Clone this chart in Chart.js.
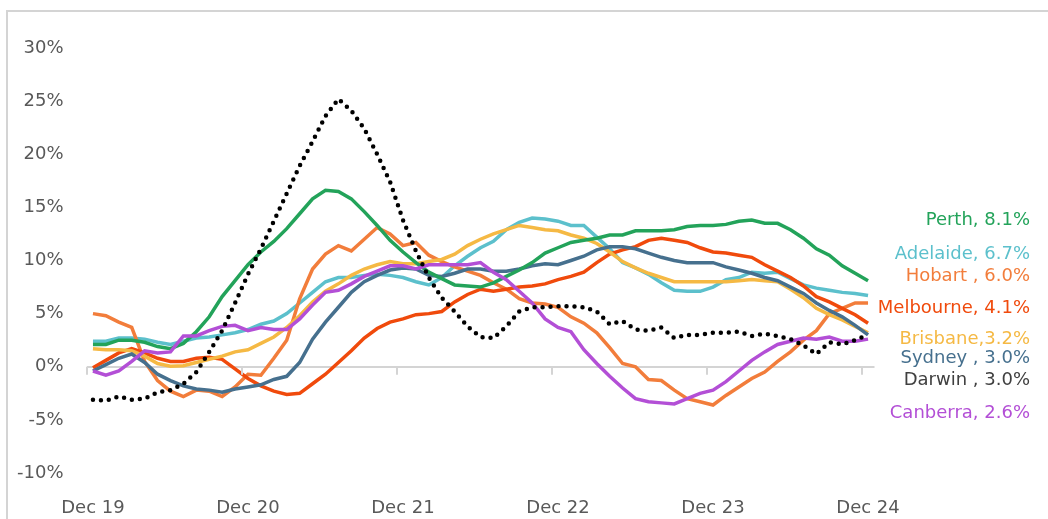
<!DOCTYPE html>
<html lang="en">
  <head>
    <meta charset="UTF-8" />
    <title>Capital city growth</title>
    <script src="https://cdn.jsdelivr.net/npm/chart.js@4"></script>
    <style>
      html, body { margin: 0; padding: 0; background: #fff; overflow: hidden; }
      .wrap { position: relative; width: 1048px; height: 519px; }
      .frame {
        position: absolute; left: 6px; top: 10px; width: 1100px; height: 600px;
        border-left: 2px solid #d4d4d4; border-top: 2px solid #d4d4d4;
      }
      canvas { position: absolute; left: 0; top: 0; }
    </style>
  </head>
  <body>
    <div class="wrap">
      <div class="frame"></div>
      <canvas id="growthChart" width="1048" height="519"></canvas>
    </div>

    <script>
      // monthly categories, Dec 19 .. Dec 24
      const monthNames = ["Jan","Feb","Mar","Apr","May","Jun","Jul","Aug","Sep","Oct","Nov","Dec"];
      const months = [];
      for (let i = 0; i < 61; i++) {
        const m = (11 + i) % 12;
        const yr = 19 + Math.floor((11 + i) / 12);
        months.push(monthNames[m] + " " + yr);
      }

      const yTicks = [-10, -5, 0, 5, 10, 15, 20, 25, 30];

      // annual growth, %
      const darwin = [
        -3.1, -3.2, -2.8, -3.1, -3.0, -2.4, -2.2, -1.6, -0.5, 1.4, 3.4,
        6.0, 8.7, 11.1, 13.7, 16.3, 18.9, 21.2, 23.6, 25.2, 24.1,
        22.4, 20.0, 17.4, 13.8, 10.9, 8.4, 6.5, 5.2, 3.8, 2.8,
        2.7, 3.8, 5.2, 5.6, 5.6, 5.7, 5.7, 5.6, 5.2, 4.0,
        4.3, 3.5, 3.4, 3.7, 2.7, 3.0, 3.0, 3.2, 3.2, 3.3,
        2.9, 3.1, 2.9, 2.6, 2.0, 1.2, 2.3, 2.1, 2.5, 3.0
      ];
      const perth = [
        2.1, 2.1, 2.5, 2.5, 2.3, 1.9, 1.7, 2.2, 3.3, 4.7, 6.6,
        8.1, 9.6, 10.8, 11.8, 13.0, 14.4, 15.8, 16.6, 16.5, 15.8,
        14.6, 13.3, 11.9, 10.8, 9.8, 8.9, 8.3, 7.7, 7.6, 7.5,
        7.9, 8.5, 9.1, 9.8, 10.7, 11.2, 11.7, 11.9, 12.1, 12.4,
        12.4, 12.8, 12.8, 12.8, 12.9, 13.2, 13.3, 13.3, 13.4, 13.7,
        13.8, 13.5, 13.5, 12.9, 12.1, 11.1, 10.5, 9.5, 8.8, 8.1
      ];
      const adelaide = [
        2.4, 2.4, 2.7, 2.7, 2.6, 2.3, 2.1, 2.4, 2.7, 2.8, 3.0,
        3.2, 3.5, 4.0, 4.3, 5.0, 6.0, 7.0, 8.0, 8.4, 8.4,
        8.6, 8.7, 8.6, 8.4, 8.0, 7.7, 8.4, 9.5, 10.4, 11.2,
        11.8, 12.9, 13.6, 14.0, 13.9, 13.7, 13.3, 13.3, 12.2, 11.1,
        9.8, 9.3, 8.7, 7.9, 7.2, 7.1, 7.1, 7.5, 8.2, 8.4,
        8.9, 8.8, 8.9, 8.3, 7.7, 7.4, 7.2, 7.0, 6.9, 6.7
      ];
      const hobart = [
        5.0, 4.8, 4.2, 3.7, 0.5, -1.3, -2.3, -2.8, -2.2, -2.3, -2.8,
        -1.9, -0.7, -0.8, 0.8, 2.5, 6.4, 9.2, 10.6, 11.4, 10.9,
        12.0, 13.1, 12.5, 11.4, 11.7, 10.5, 9.9, 9.4, 9.0, 8.6,
        7.9, 7.3, 6.4, 6.0, 5.9, 5.6, 4.7, 4.1, 3.2, 1.8,
        0.3, 0.0, -1.2, -1.3, -2.2, -3.0, -3.3, -3.6, -2.7, -1.9,
        -1.1, -0.5, 0.5, 1.4, 2.5, 3.4, 5.0, 5.5, 6.0, 6.0
      ];
      const melbourne = [
        -0.1, 0.6, 1.3, 1.7, 1.3, 0.8, 0.5, 0.5, 0.8, 0.9, 0.7,
        -0.2, -1.1, -1.8, -2.3, -2.6, -2.5, -1.6, -0.7, 0.4, 1.5,
        2.7, 3.6, 4.2, 4.5, 4.9, 5.0, 5.2, 6.1, 6.8, 7.3,
        7.1, 7.3, 7.5, 7.6, 7.8, 8.2, 8.5, 8.9, 9.8, 10.6,
        11.0, 11.3, 11.9, 12.1, 11.9, 11.7, 11.2, 10.8, 10.7, 10.5,
        10.3, 9.6, 9.0, 8.4, 7.6, 6.6, 6.1, 5.5, 4.9, 4.1
      ];
      const brisbane = [
        1.7, 1.6, 1.6, 1.5, 1.0, 0.3, 0.05, 0.1, 0.4, 0.7, 1.0,
        1.4, 1.6, 2.2, 2.8, 3.7, 4.8, 6.1, 7.1, 7.8, 8.6,
        9.2, 9.6, 9.9, 9.7, 9.7, 9.9, 10.1, 10.6, 11.4, 12.0,
        12.5, 12.9, 13.3, 13.1, 12.9, 12.8, 12.4, 12.1, 11.6, 10.8,
        9.9, 9.3, 8.8, 8.4, 8.0, 8.0, 8.0, 8.0, 8.0, 8.1,
        8.2, 8.1, 8.0, 7.3, 6.5, 5.5, 4.9, 4.4, 3.8, 3.2
      ];
      const sydney = [
        -0.4, 0.2, 0.8, 1.2, 0.4, -0.7, -1.3, -1.8, -2.1, -2.2, -2.4,
        -2.1, -1.9, -1.7, -1.2, -0.9, 0.4, 2.6, 4.2, 5.6, 7.0,
        8.0, 8.6, 9.1, 9.3, 9.2, 8.6, 8.5, 8.8, 9.2, 9.2,
        9.0, 9.0, 9.2, 9.5, 9.7, 9.6, 10.0, 10.4, 11.0, 11.3,
        11.3, 11.1, 10.7, 10.3, 10.0, 9.8, 9.8, 9.8, 9.4, 9.1,
        8.8, 8.4, 8.1, 7.5, 6.9, 6.0, 5.3, 4.7, 3.9, 3.0
      ];
      const canberra = [
        -0.4, -0.8, -0.4, 0.5, 1.5, 1.3, 1.4, 2.9, 2.9, 3.4, 3.8,
        3.9, 3.4, 3.7, 3.5, 3.5, 4.5, 5.8, 7.0, 7.2, 7.8,
        8.5, 9.0, 9.5, 9.5, 9.2, 9.6, 9.6, 9.6, 9.6, 9.8,
        8.9, 8.2, 7.1, 6.0, 4.5, 3.7, 3.3, 1.6, 0.3, -0.9,
        -2.0, -3.0, -3.3, -3.4, -3.5, -3.0, -2.5, -2.2, -1.4, -0.4,
        0.6, 1.4, 2.1, 2.4, 2.7, 2.6, 2.8, 2.4, 2.4, 2.6
      ];

      const endLabels = [
        "Perth, 8.1%", "Adelaide, 6.7%", "Hobart , 6.0%", "Melbourne, 4.1%",
        "Brisbane,3.2%", "Sydney , 3.0%", "Darwin , 3.0%", "Canberra, 2.6%"
      ];

      const FONT = "'DejaVu Sans', sans-serif";

      function line(label, values, color, extra) {
        return Object.assign({
          label: label,
          data: values,
          borderColor: color,
          backgroundColor: color,
          borderWidth: 3.5,
          pointRadius: 0,
          tension: 0,
          fill: false,
        }, extra || {});
      }

      // little tick marks on the zero line, between categories
      const zeroTicks = {
        id: "zeroTicks",
        afterDatasetsDraw(chart) {
          const x = chart.scales.x, y = chart.scales.y;
          const ctx = chart.ctx;
          const y0 = y.getPixelForValue(0);
          const half = (x.getPixelForValue(1) - x.getPixelForValue(0)) / 2;
          ctx.save();
          ctx.strokeStyle = "#d4d4d4";
          ctx.lineWidth = 2;
          for (let i = 0; i < months.length; i += 12) {
            const px = Math.round(x.getPixelForValue(i) - half);
            ctx.beginPath();
            ctx.moveTo(px, y0);
            ctx.lineTo(px, y0 + 8);
            ctx.stroke();
          }
          ctx.restore();
        },
      };

      // city labels at the right hand side
      const cityLabels = {
        id: "cityLabels",
        afterDraw(chart, args, opts) {
          const ctx = chart.ctx;
          const y = chart.scales.y;
          ctx.save();
          ctx.font = opts.size + "px " + FONT;
          ctx.textAlign = "right";
          ctx.textBaseline = "middle";
          endLabels.forEach((txt, i) => {
            ctx.fillStyle = opts.colors[i];
            ctx.fillText(txt, opts.right, y.getPixelForValue(opts.at[i]));
          });
          ctx.restore();
        },
      };

      const ctx = document.getElementById("growthChart").getContext("2d");
      new Chart(ctx, {
        type: "line",
        data: {
          labels: months,
          datasets: [
            line("Darwin", darwin, "#000000", {
              borderWidth: 4.5,
              borderDash: [0, 8],
              borderCapStyle: "round",
            }),
            line("Canberra", canberra, "#b34fd6"),
            line("Perth", perth, "#23a35a"),
            line("Sydney", sydney, "#46708e"),
            line("Brisbane", brisbane, "#f5b944"),
            line("Melbourne", melbourne, "#f04a0c"),
            line("Hobart", hobart, "#f27d3b"),
            line("Adelaide", adelaide, "#5cc0cc"),
          ],
        },
        options: {
          responsive: false,
          devicePixelRatio: 1,
          animation: false,
          layout: { padding: { left: 6.5, right: 173.5, top: 48, bottom: 1 } },
          plugins: {
            legend: { display: false },
            tooltip: { enabled: false },
            cityLabels: {
              right: 1030,
              size: 18,
              at: [13.8, 10.6, 8.5, 5.5, 2.6, 0.75, -1.3, -4.4],
              colors: ["#23a35a", "#5cc0cc", "#f27d3b", "#f04a0c", "#f5b944", "#46708e", "#404040", "#b34fd6"],
            },
          },
          scales: {
            x: {
              offset: true,
              afterFit(scale) { scale.height = 45; },
              border: { display: false },
              grid: { display: false, drawTicks: false },
              ticks: {
                autoSkip: false,
                maxRotation: 0,
                padding: 25,
                color: "#595959",
                font: { family: FONT, size: 18 },
                callback: function (value, index) {
                  return index % 12 === 0 ? this.getLabelForValue(value) : null;
                },
              },
            },
            y: {
              min: -10,
              max: 30,
              afterFit(scale) { scale.width = 80; },
              afterBuildTicks(scale) {
                scale.ticks = yTicks.map((v) => ({ value: v }));
              },
              border: { display: false },
              grid: {
                drawTicks: false,
                lineWidth: 2,
                color: (c) => (c.tick && c.tick.value === 0 ? "#d4d4d4" : "rgba(0,0,0,0)"),
              },
              ticks: {
                padding: 23,
                color: "#595959",
                font: { family: FONT, size: 18 },
                callback: (v) => v + "%",
              },
            },
          },
        },
        plugins: [zeroTicks, cityLabels],
      });
    </script>
  </body>
</html>
